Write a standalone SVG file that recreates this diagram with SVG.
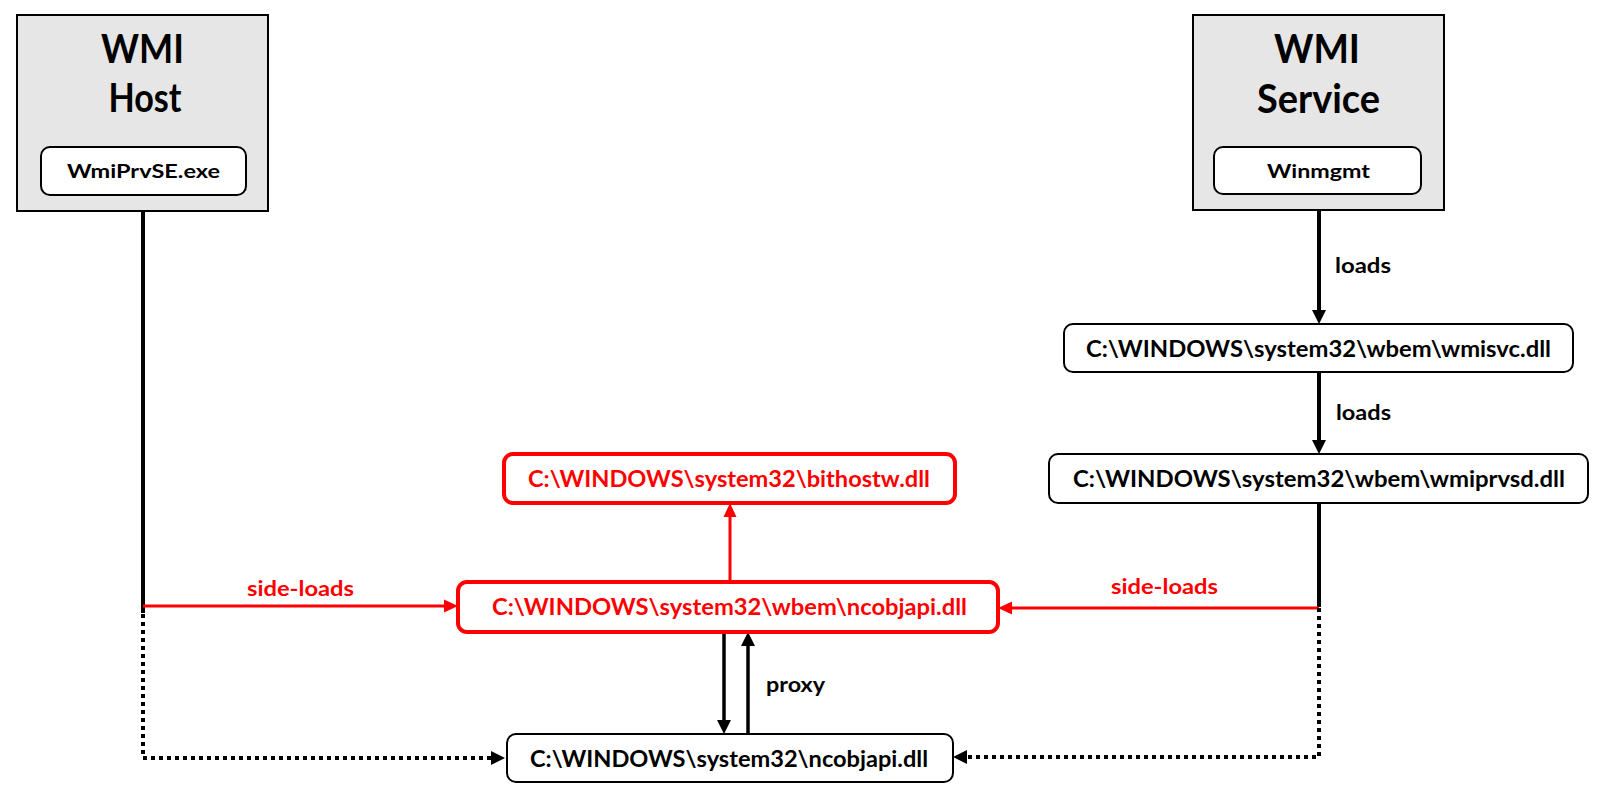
<svg xmlns="http://www.w3.org/2000/svg" width="1600" height="798" viewBox="0 0 1600 798">
<style>
text{font-family:Lato,"Open Sans","Liberation Sans",sans-serif;font-weight:bold;fill:#000}
.hdr{fill:#e7e6e6;stroke:#000;stroke-width:2}
.inner{fill:#fff;stroke:#000;stroke-width:2}
.node{fill:#fff;stroke:#000;stroke-width:2}
.rnode{fill:#fff;stroke:#ff0000;stroke-width:4}
.big{font-size:41px}
.sm{font-size:19px}
.lbl{font-size:22.5px}
.edge{font-size:21px}
.red{fill:#ff0000}
.k{fill:none;stroke:#000;stroke-width:3.5}
.kt{fill:none;stroke:#000;stroke-width:4}
.r{fill:none;stroke:#ff0000;stroke-width:3}
.dot{fill:none;stroke:#000;stroke-width:4;stroke-dasharray:4 4}
</style>
<defs>
<marker id="ak" markerUnits="userSpaceOnUse" markerWidth="14" markerHeight="14" refX="4" refY="7" orient="auto"><path d="M0,0 L14,7 L0,14 z" fill="#000"/></marker>
<marker id="ar" markerUnits="userSpaceOnUse" markerWidth="14" markerHeight="14" refX="4" refY="7" orient="auto"><path d="M0,0.5 L14,7 L0,13.5 z" fill="#ff0000"/></marker>
</defs>
<g id="connectors">
<path class="kt" d="M143,211 V613"/>
<path class="kt" d="M1319,503 V607"/>
<path class="kt" marker-end="url(#ak)" d="M1319,210 V314"/>
<path class="kt" marker-end="url(#ak)" d="M1319,372 V444"/>
<path class="k" marker-end="url(#ak)" d="M724,632 V724"/>
<path class="k" marker-end="url(#ak)" d="M748,734 V642"/>
<path class="r" marker-end="url(#ar)" d="M143,606 H448"/>
<path class="r" marker-end="url(#ar)" d="M1319,608 H1008"/>
<path class="r" marker-end="url(#ar)" d="M730,582 V513"/>
<path class="dot" marker-end="url(#ak)" d="M143,614 V758 H495"/>
<path class="dot" marker-end="url(#ak)" d="M1319,608 V757 H963"/>
<text class="edge red" x="247" y="596" textLength="107" lengthAdjust="spacingAndGlyphs">side-loads</text>
<text class="edge red" x="1111" y="594" textLength="107" lengthAdjust="spacingAndGlyphs">side-loads</text>
<text class="edge" x="1335" y="273" textLength="56" lengthAdjust="spacingAndGlyphs">loads</text>
<text class="edge" x="1336" y="420" textLength="55" lengthAdjust="spacingAndGlyphs">loads</text>
<text class="edge" x="766" y="692" textLength="59" lengthAdjust="spacingAndGlyphs">proxy</text>
</g>
<g id="wmi-host">
<rect class="hdr" x="17" y="15" width="251" height="196"/>
<text class="big" x="142.5" y="63" text-anchor="middle" textLength="83" lengthAdjust="spacingAndGlyphs">WMI</text>
<text class="big" x="145" y="112" text-anchor="middle" textLength="73" lengthAdjust="spacingAndGlyphs">Host</text>
<rect class="inner" x="41" y="147" width="205" height="48" rx="9"/>
<text class="sm" x="143.5" y="178" text-anchor="middle" textLength="153" lengthAdjust="spacingAndGlyphs">WmiPrvSE.exe</text>
</g>
<g id="wmi-service">
<rect class="hdr" x="1193" y="15" width="251" height="195"/>
<text class="big" x="1317" y="63" text-anchor="middle" textLength="86" lengthAdjust="spacingAndGlyphs">WMI</text>
<text class="big" x="1318.5" y="113" text-anchor="middle" textLength="123" lengthAdjust="spacingAndGlyphs">Service</text>
<rect class="inner" x="1214" y="147" width="207" height="47" rx="9"/>
<text class="sm" x="1318.5" y="178" text-anchor="middle" textLength="103" lengthAdjust="spacingAndGlyphs">Winmgmt</text>
</g>
<g id="wmisvc">
<rect class="node" x="1064" y="324" width="509" height="48" rx="9"/>
<text class="lbl" x="1318.5" y="357" text-anchor="middle" textLength="465" lengthAdjust="spacingAndGlyphs">C:\WINDOWS\system32\wbem\wmisvc.dll</text>
</g>
<g id="wmiprvsd">
<rect class="node" x="1049" y="454" width="539" height="49" rx="9"/>
<text class="lbl" x="1319" y="487" text-anchor="middle" textLength="492" lengthAdjust="spacingAndGlyphs">C:\WINDOWS\system32\wbem\wmiprvsd.dll</text>
</g>
<g id="bithostw">
<rect class="rnode" x="504" y="454" width="451" height="49" rx="9"/>
<text class="lbl red" x="729" y="487" text-anchor="middle" textLength="402" lengthAdjust="spacingAndGlyphs">C:\WINDOWS\system32\bithostw.dll</text>
</g>
<g id="wbem-ncobjapi">
<rect class="rnode" x="458" y="582" width="540" height="50" rx="9"/>
<text class="lbl red" x="729.5" y="615" text-anchor="middle" textLength="475" lengthAdjust="spacingAndGlyphs">C:\WINDOWS\system32\wbem\ncobjapi.dll</text>
</g>
<g id="ncobjapi">
<rect class="node" x="507" y="734" width="446" height="48" rx="9"/>
<text class="lbl" x="729" y="767" text-anchor="middle" textLength="398" lengthAdjust="spacingAndGlyphs">C:\WINDOWS\system32\ncobjapi.dll</text>
</g>
</svg>
